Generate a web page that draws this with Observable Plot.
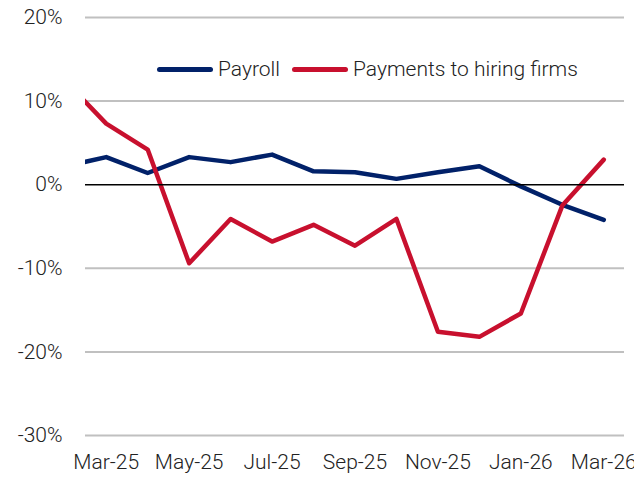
<!DOCTYPE html>
<html>
<head>
<meta charset="utf-8">
<script src="https://cdn.jsdelivr.net/npm/d3@7"></script>
<script src="https://cdn.jsdelivr.net/npm/@observablehq/plot@0.6"></script>
<style>
  html, body { margin: 0; padding: 0; background: #fff; }
  #wrap { position: relative; width: 634px; height: 481px; font-family: Roboto, sans-serif; font-weight: 300; color: #222; }
  #legend { position: absolute; left: 157px; top: 57px; display: flex; align-items: center; font-size: 21px; white-space: nowrap; }
  .item { display: flex; align-items: center; margin-right: 12px; }
  .sw { width: 56px; height: 5px; border-radius: 3px; margin-right: 5px; }
</style>
</head>
<body>
<div id="wrap">
  <div id="chart"></div>
  <div id="legend"></div>
</div>
<script>
// Month categories (Feb-25 is partly outside the plotted window, as in the source)
const months = ["Feb-25","Mar-25","Apr-25","May-25","Jun-25","Jul-25","Aug-25","Sep-25","Oct-25","Nov-25","Dec-25","Jan-26","Feb-26","Mar-26"];
// Series values (% year-over-year)
const payroll  = [2.2, 3.3, 1.4, 3.3, 2.7, 3.6, 1.6, 1.5, 0.7, 1.5, 2.2, -0.2, -2.4, -4.2];
const payments = [12.5, 7.3, 4.2, -9.4, -4.1, -6.8, -4.8, -7.3, -4.1, -17.6, -18.2, -15.4, -2.5, 3.0];
// Axis tick labels
const xTickLabels = ["Mar-25","May-25","Jul-25","Sep-25","Nov-25","Jan-26","Mar-26"];
const yTicks = [20, 10, 0, -10, -20, -30];
const seriesNames = ["Payroll", "Payments to hiring firms"];
const seriesColors = ["#012169", "#C8102E"];

const rows = [];
months.forEach((m, i) => {
  rows.push({i, month: m, series: seriesNames[0], value: payroll[i]});
  rows.push({i, month: m, series: seriesNames[1], value: payments[i]});
});
const xTickIdx = xTickLabels.map(l => months.indexOf(l));

const chart = Plot.plot({
  width: 634,
  height: 481,
  marginLeft: 85,
  marginRight: 10,
  marginTop: 17,
  marginBottom: 46,
  style: {fontFamily: "Roboto, sans-serif", fontWeight: 300, fontSize: "21px", color: "#222", background: "#fff", overflow: "visible"},
  x: {type: "linear", domain: [months.indexOf("Mar-25") - 0.5, months.indexOf("Mar-26") + 0.5]},
  y: {domain: [-30, 20]},
  color: {domain: seriesNames, range: seriesColors},
  marks: [
    Plot.ruleY(yTicks.filter(d => d !== 0), {stroke: "#c0c0c0", strokeWidth: 2}),
    Plot.line(rows, {x: "i", y: "value", stroke: "series", strokeWidth: 4.5, strokeLinejoin: "round", strokeLinecap: "round", clip: true}),
    Plot.ruleY([0], {stroke: "#000", strokeWidth: 1.5}),
    Plot.axisY({ticks: yTicks, tickSize: 0, tickPadding: 23, tickFormat: d => `${d}%`, label: null}),
    Plot.axisX({ticks: xTickIdx, tickSize: 0, tickPadding: 19, tickFormat: i => months[i], label: null})
  ]
});
document.getElementById("chart").appendChild(chart);

const legend = document.getElementById("legend");
seriesNames.forEach((n, k) => {
  const it = document.createElement("div");
  it.className = "item";
  const sw = document.createElement("div");
  sw.className = "sw";
  sw.style.background = seriesColors[k];
  const tx = document.createElement("span");
  tx.textContent = n;
  it.appendChild(sw); it.appendChild(tx);
  legend.appendChild(it);
});
</script>
</body>
</html>
